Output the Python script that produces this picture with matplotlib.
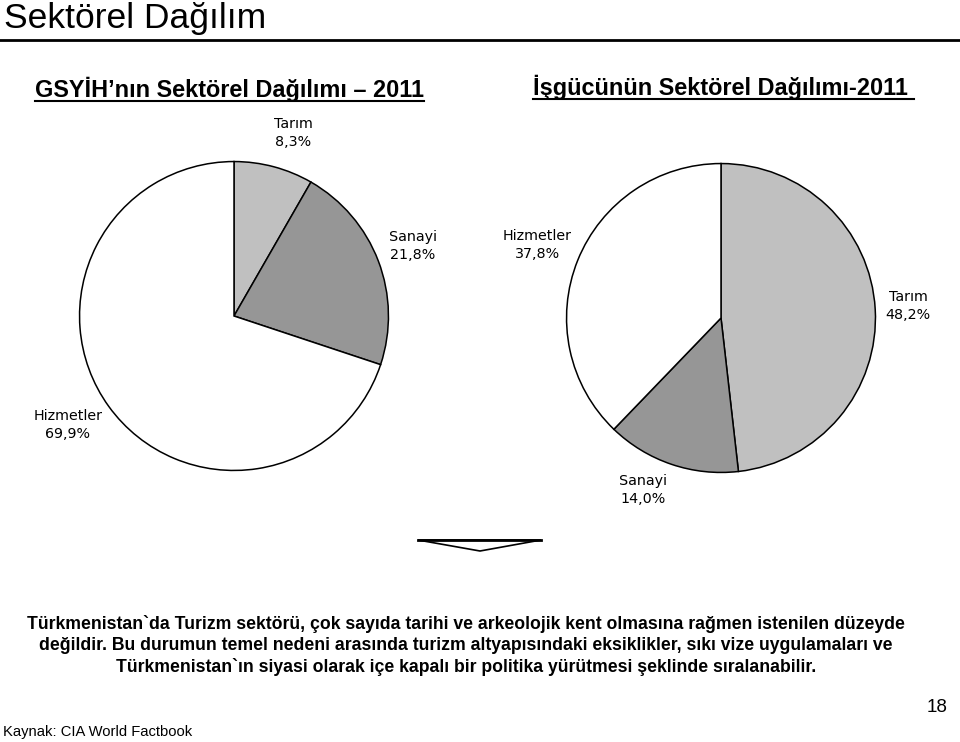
import matplotlib.pyplot as plt
from matplotlib.lines import Line2D
from matplotlib.patches import Polygon

# =====================
# Data
# =====================
gdp_labels = ["Tarım", "Sanayi", "Hizmetler"]
gdp_values = [8.3, 21.8, 69.9]

labor_labels = ["Tarım", "Sanayi", "Hizmetler"]
labor_values = [48.2, 14.0, 37.8]

slice_colors = ["#c0c0c0", "#969696", "#ffffff"]

W, H = 960, 742


def px(x, y):
    # pixel (from top-left) -> figure fraction
    return x / W, 1 - y / H


def pie_axes(fig, cx, cy, r):
    return fig.add_axes([(cx - r) / W, (H - cy - r) / H, 2 * r / W, 2 * r / H])


def fmt(v):
    return f"{v:.1f}%".replace(".", ",")


fig = plt.figure(figsize=(W / 100, H / 100), dpi=100)

# =====================
# Header
# =====================
fig.text(*px(4, 28), "Sektörel Dağılım", fontsize=25.5, family="Liberation Sans",
         va="baseline", ha="left")
fig.add_artist(Line2D([0, 1], [1 - 40 / H] * 2, color="black", lw=2,
                      transform=fig.transFigure))

sub_left = fig.text(*px(35, 97), "GSYİH’nın Sektörel Dağılımı – 2011", fontsize=16.9,
                    family="Liberation Sans", weight="bold", va="baseline", ha="left")
sub_right = fig.text(*px(533, 95), "İşgücünün Sektörel Dağılımı-2011 ", fontsize=16.9,
                     family="Liberation Sans", weight="bold", va="baseline", ha="left")

# =====================
# Pies
# =====================
pies = [
    (234, 316, 156, gdp_values, gdp_labels,
     [(293, 133), (413, 246), (68, 425)]),
    (721, 318, 156, labor_values, labor_labels,
     [(908, 306), (643, 490), (537, 245)]),
]

for cx, cy, r, values, labels, label_pos in pies:
    ax = pie_axes(fig, cx, cy, r)
    ax.pie(values, colors=slice_colors, startangle=90, counterclock=False,
           wedgeprops=dict(edgecolor="black", linewidth=1.1))
    ax.set_xlim(-1.01, 1.01)
    ax.set_ylim(-1.01, 1.01)
    ax.axis("off")
    for lab, val, (lx, ly) in zip(labels, values, label_pos):
        fig.text(*px(lx, ly), f"{lab}\n{fmt(val)}", fontsize=10.3,
                 family="DejaVu Sans", ha="center", va="center",
                 linespacing=1.45)

# arrow-like triangle
tri = Polygon([px(418, 540), px(541, 540), px(480, 551)], closed=True,
              facecolor="white", edgecolor="black", lw=1.2,
              transform=fig.transFigure)
fig.add_artist(tri)
fig.add_artist(Line2D([418 / W, 541 / W], [1 - 540 / H] * 2, color="black", lw=2,
                      transform=fig.transFigure))

# =====================
# Bottom text
# =====================
paragraph = [
    "Türkmenistan`da Turizm sektörü, çok sayıda tarihi ve arkeolojik kent olmasına rağmen istenilen düzeyde",
    "değildir. Bu durumun temel nedeni arasında turizm altyapısındaki eksiklikler, sıkı vize uygulamaları ve",
    "Türkmenistan`ın siyasi olarak içe kapalı bir politika yürütmesi şeklinde sıralanabilir.",
]
for i, line in enumerate(paragraph):
    fig.text(*px(466, 624 + i * 21.5), line, fontsize=12.7, family="Liberation Sans",
             weight="bold", ha="center", va="center")

fig.text(*px(3, 732), "Kaynak: CIA World Factbook", fontsize=10.6,
         family="Liberation Sans", ha="left", va="center")
fig.text(*px(947, 708), "18", fontsize=13.5, family="Liberation Sans",
         ha="right", va="center")

# underline the two subtitles
fig.canvas.draw()
renderer = fig.canvas.get_renderer()
for t in (sub_left, sub_right):
    bb = t.get_window_extent(renderer).transformed(fig.transFigure.inverted())
    fig.add_artist(Line2D([bb.x0, bb.x1], [bb.y0 + 1 / H] * 2, color="black",
                          lw=1.5, transform=fig.transFigure))

fig.savefig("out.png", dpi=100)
